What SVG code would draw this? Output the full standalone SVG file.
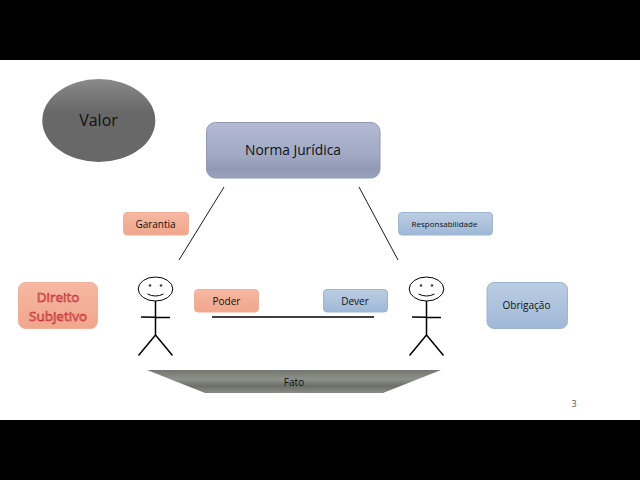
<svg xmlns="http://www.w3.org/2000/svg" width="640" height="480" viewBox="0 0 640 480">
<style>
text{font-family:"Open Sans","Liberation Sans",sans-serif;text-anchor:middle;fill:#111}
.red{fill:url(#red);stroke:#f0b09a;stroke-width:1}
.blue{fill:url(#blue);stroke:#9fb4d0;stroke-width:1}
.ln{stroke:#1a1a1a;stroke-width:1;fill:none}
.fig{stroke:#000;stroke-width:1.5;fill:none}
.sub{fill:#e88f86;stroke:#c21f30;stroke-width:.55}
</style>
<defs>
<linearGradient id="red" x1="0" y1="0" x2="0" y2="1"><stop offset="0" stop-color="#f6b8a2"/><stop offset="1" stop-color="#f0a68c"/></linearGradient>
<linearGradient id="blue" x1="0" y1="0" x2="0" y2="1"><stop offset="0" stop-color="#bccde2"/><stop offset="1" stop-color="#9fb8d8"/></linearGradient>
<linearGradient id="norma" x1="0" y1="0" x2="0" y2="1"><stop offset="0" stop-color="#b4bbd2"/><stop offset=".6" stop-color="#a0a8c4"/><stop offset=".85" stop-color="#9098b4"/><stop offset="1" stop-color="#9aa2bc"/></linearGradient>
<linearGradient id="valor" x1="0" y1="0" x2="0" y2="1"><stop offset="0" stop-color="#8a8a8a"/><stop offset=".4" stop-color="#686868"/><stop offset="1" stop-color="#686868"/></linearGradient>
<linearGradient id="fato" x1="0" y1="0" x2="0" y2="1"><stop offset="0" stop-color="#73776f"/><stop offset=".4" stop-color="#8d918a"/><stop offset=".7" stop-color="#6b6f67"/><stop offset="1" stop-color="#888c84"/></linearGradient>
<g id="person" class="fig">
<ellipse cx="0" cy="0" rx="17.300" ry="12" stroke-width="1"/>
<path d="M0 12V46M-14.500 28L14.500 28.500M0 46L-17 66.500M0 46L17 66.500"/>
<circle cx="-5.500" cy="-3.500" r="1.300" fill="#444" stroke="none"/>
<circle cx="5.500" cy="-3.500" r="1.300" fill="#444" stroke="none"/>
<path d="M-8 5Q0 9 8 5" stroke-width="1"/>
</g>
</defs>
<rect width="640" height="480" fill="#fff"/>
<rect width="640" height="60" fill="#000"/>
<rect y="420" width="640" height="60" fill="#000"/>
<g id="connectors">
<line class="ln" x1="224" y1="187" x2="179" y2="260"/>
<line class="ln" x1="359" y1="187" x2="398" y2="260"/>
<line x1="212" y1="317" x2="374" y2="317" stroke="#000" stroke-width="1.300"/>
</g>
<g id="valor-node"><ellipse cx="98.800" cy="120.500" rx="56.500" ry="41.500" fill="url(#valor)"/><text x="98.500" y="126" font-size="16">Valor</text></g>
<g id="norma-node"><rect x="206.500" y="122.500" width="173.500" height="55.500" rx="9" fill="url(#norma)" stroke="#9098b4"/><text x="293" y="155" font-size="13.800">Norma Jurídica</text></g>
<g id="garantia-node"><rect class="red" x="123.500" y="212.500" width="65" height="22.500" rx="3.500"/><text x="155.500" y="228" font-size="10">Garantia</text></g>
<g id="responsabilidade-node"><rect class="blue" x="398.500" y="212.500" width="94" height="22.500" rx="3.500"/><text x="444.500" y="227" font-size="8">Responsabilidade</text></g>
<g id="direito-node"><rect class="red" x="18.500" y="282.500" width="79" height="46" rx="7"/>
<text class="sub" x="58" y="301.500" font-size="13.500">Direito</text>
<text class="sub" x="58" y="321" font-size="13.500">Subjetivo</text></g>
<g id="poder-node"><rect class="red" x="194.500" y="289.500" width="64" height="22.500" rx="3.500"/><text x="226.500" y="305" font-size="10">Poder</text></g>
<g id="dever-node"><rect class="blue" x="323.500" y="289.500" width="64" height="22.500" rx="3.500"/><text x="355" y="305" font-size="10">Dever</text></g>
<g id="obrigacao-node"><rect class="blue" x="487" y="282.500" width="80.500" height="46" rx="7"/><text x="526.500" y="309" font-size="10">Obrigação</text></g>
<g id="pessoa-1"><use href="#person" x="155.500" y="289"/></g>
<g id="pessoa-2"><use href="#person" x="426.500" y="289"/></g>
<g id="fato-node"><polygon points="147,370 441,370 383,393 205,393" fill="url(#fato)"/><text x="294" y="386" font-size="10">Fato</text></g>
<text id="page" x="574" y="407" font-size="9" style="fill:#555">3</text>
</svg>
